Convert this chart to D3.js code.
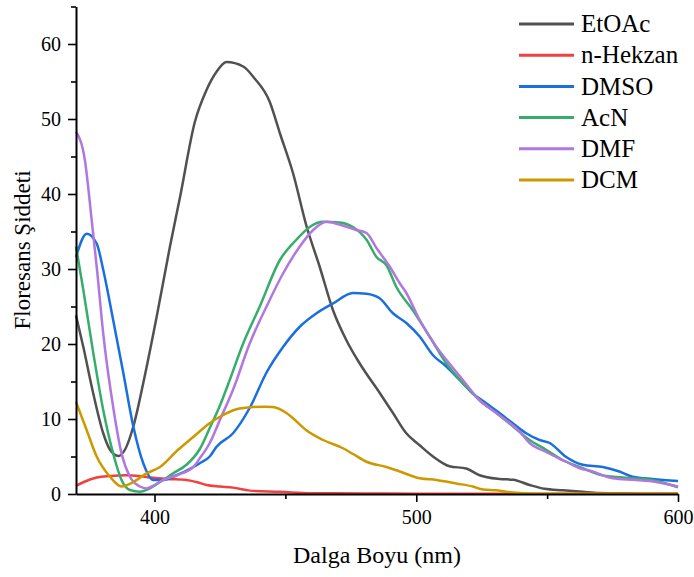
<!DOCTYPE html>
<html>
<head>
<meta charset="utf-8">
<script src="https://cdn.jsdelivr.net/npm/d3@7/dist/d3.min.js"></script>
<style>
  body { margin: 0; background: #fff; }
  svg { display: block; font-family: "Liberation Serif", "Times New Roman", serif; }
</style>
</head>
<body>
<svg width="694" height="577"></svg>
<script>
// [wavelength nm, intensity]
let etoac = [[370,23.8],[372.8,19.6],[376.6,13.4],[380.4,8.1],[383,5.9],[386.2,5.07],[388.7,5.9],[391.9,9.0],[395.7,14.8],[400.8,23.6],[405.9,33],[409.7,39.5],[415.4,49.6],[419.9,53.9],[423.7,56.3],[427.5,57.6],[433.9,57],[438,55.5],[444,52.3],[447.9,48.1],[452.9,42.8],[458,35.8],[463.1,30.3],[468.2,24.5],[473.3,20.5],[478.4,17.4],[486,13.5],[491.1,10.8],[496.2,8.1],[501.3,6.5],[506.4,5.0],[512.7,3.7],[519.1,3.4],[524.2,2.5],[531.8,2.0],[537,1.9],[543.3,1.2],[549,0.7],[556,0.5],[563.6,0.3],[570,0.15],[580,0.1],[590,0.05],[600,0.05]]
let hekzan = [[370,1.07],[373,1.6],[377.9,2.2],[383,2.4],[389.3,2.5],[394,2.4],[398.2,2.2],[405,2.0],[412.2,1.87],[416,1.6],[419.9,1.2],[425,1.0],[430,0.85],[436.4,0.45],[447.9,0.3],[460,0.1],[480,0.08],[500,0.05],[540,0.05],[600,0.05]]
let dmso = [[370,31.6],[374.1,34.7],[377.9,33.4],[380.4,29.9],[384.2,23.2],[388.1,16.1],[391.9,9.0],[395.7,4.1],[399.5,1.87],[403.3,1.87],[408.4,2.5],[414.8,3.6],[417.3,4.1],[421.1,5.0],[423.7,6.3],[430,8.1],[436.4,11.5],[442.8,16.2],[449.1,19.6],[455.5,22.3],[461.9,24.1],[468.2,25.4],[475.8,26.8],[481,26.7],[486,26.1],[491.1,24.1],[496.2,22.8],[501.3,21],[506.4,18.5],[511.5,17],[516.6,15.2],[521.6,13.4],[526.7,12.1],[531.8,10.8],[537,9.4],[542,8.1],[547.1,7.2],[551,6.8],[557,5.0],[563.6,3.9],[571.3,3.6],[577.6,3.0],[582.7,2.3],[590.3,2.0],[600,1.73]]
let acn = [[370,33],[372.8,27.2],[376.6,18.8],[380.4,11.2],[384.2,5.4],[387.4,1.87],[390.6,0.53],[394.4,0.3],[398.2,0.75],[402.1,1.6],[407.1,2.75],[412.2,3.9],[417.3,6.0],[421.1,8.8],[425,11.8],[428.1,14.6],[433.9,20.1],[440.2,25],[447.9,31.2],[454.2,33.9],[459.3,35.6],[464.4,36.3],[470.8,36.2],[475.8,35.6],[481,33.9],[484.8,31.6],[488.6,30.5],[492.4,27.6],[498.7,24.5],[505.1,21],[511.5,17.4],[517.8,14.8],[524.2,12.5],[530.6,10.8],[537,9.0],[543.3,7.2],[549.6,5.9],[556,4.5],[562.4,3.6],[571,2.5],[582.7,2.1],[590,1.87],[600,0.9]]
let dmf = [[370,48.3],[373.4,44.5],[376,36.5],[378,30],[380.4,21.4],[384.2,11.6],[387.4,5.4],[390.6,2.3],[394.4,1.0],[397,0.75],[400,1.2],[403.3,1.87],[408.4,2.5],[414.8,3.6],[417.3,4.75],[421.1,6.8],[425,9.9],[430,13.9],[436.4,20.1],[442.8,25],[449.1,29.4],[455.5,33],[460.6,35.2],[465.7,36.3],[470.8,35.9],[477.1,35.2],[481,34.8],[484.8,32.8],[489.9,30.3],[493.7,28.1],[496.2,26.8],[501.3,23.2],[507.7,19.6],[511.5,17.9],[517.8,15.2],[524.2,12.5],[530.6,10.8],[539.5,8.3],[543.3,6.8],[549.6,5.6],[557.3,4.3],[562,3.5],[567.4,3.0],[575,2.1],[584,1.87],[591.6,1.6],[600,1.0]]
let dcm = [[370,12.3],[374.1,8.5],[377.9,5.0],[383,2.3],[387.4,1.0],[391.9,1.6],[397,2.75],[402.1,3.6],[409,5.9],[414.8,7.6],[420.9,9.4],[425,10.3],[431.3,11.3],[437.7,11.6],[442,11.65],[445,11.6],[450.4,10.8],[452.9,10.1],[458,8.5],[464.4,7.2],[472,6.1],[476,5.3],[481,4.3],[488.6,3.6],[493.7,3.0],[501.3,2.1],[507.7,1.87],[515.3,1.4],[521.6,1.0],[525.5,0.6],[530.6,0.5],[537,0.2],[545,0.05],[600,0.05]]

let names = ['EtOAc', 'n-Hekzan', 'DMSO', 'AcN', 'DMF', 'DCM']
let colors = ['#515151', '#F14040', '#1A6FDF', '#37AD6B', '#B177DE', '#CC9900']
let series = [etoac, hekzan, dmso, acn, dmf, dcm]

let xMajor = [400, 500, 600]
let xMinor = [450, 550]
let yMajor = [0, 10, 20, 30, 40, 50, 60]
let yMinor = [5, 15, 25, 35, 45, 55, 65]

let svg = d3.select('svg')

let x = d3.scaleLinear().domain([370, 600]).range([76, 678])
let y = d3.scaleLinear().domain([0, 65]).range([494, 6.5])

// series, in drawing order
let line = d3.line()
  .x(d => x(d[0]))
  .y(d => y(d[1]))
  .curve(d3.curveMonotoneX)

svg.append('g')
  .selectAll('path')
  .data(series)
  .enter().append('path')
  .attr('d', line)
  .attr('fill', 'none')
  .attr('stroke', (d, i) => colors[i])
  .attr('stroke-width', 2.5)
  .attr('stroke-linejoin', 'round')

// axes
let xAxis = svg.append('g')
  .attr('transform', `translate(0,${y(0)})`)
  .call(d3.axisBottom(x).tickValues(xMajor).tickSize(8).tickSizeOuter(0).tickPadding(8))
xAxis.append('g')
  .call(d3.axisBottom(x).tickValues(xMinor).tickSize(5).tickFormat(''))
  .select('.domain').remove()

let yAxis = svg.append('g')
  .attr('transform', `translate(${x(370)},0)`)
  .call(d3.axisLeft(y).tickValues(yMajor).tickSize(8).tickSizeOuter(0).tickPadding(7))
yAxis.append('g')
  .call(d3.axisLeft(y).tickValues(yMinor).tickSize(5).tickFormat(''))
  .select('.domain').remove()

svg.selectAll('.domain').attr('stroke', '#000').attr('stroke-width', 2)
svg.selectAll('.tick line').attr('stroke', '#000').attr('stroke-width', 1.6)
svg.selectAll('.tick text')
  .attr('fill', '#000')
  .style('font-size', '20px')
  .style('font-family', '"Liberation Serif", serif')

// titles
svg.append('text')
  .attr('x', 377)
  .attr('y', 563)
  .attr('text-anchor', 'middle')
  .style('font-size', '24px')
  .text('Dalga Boyu (nm)')

svg.append('text')
  .attr('transform', 'translate(30,250) rotate(-90)')
  .attr('text-anchor', 'middle')
  .style('font-size', '23px')
  .text('Floresans Şiddeti')

// legend
let legend = svg.append('g')
  .selectAll('g')
  .data(names)
  .enter().append('g')
  .attr('transform', (d, i) => `translate(519,${24 + i * 31.2})`)

legend.append('line')
  .attr('x1', 0).attr('x2', 55)
  .attr('stroke', (d, i) => colors[i])
  .attr('stroke-width', 3)

legend.append('text')
  .attr('x', 62)
  .attr('dy', '0.33em')
  .style('font-size', '25px')
  .text(d => d)
</script>
</body>
</html>
